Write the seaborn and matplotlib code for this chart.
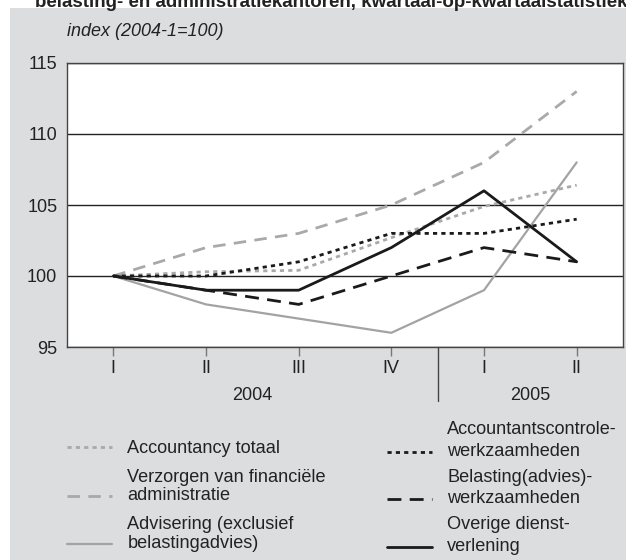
import numpy as np
import pandas as pd
import matplotlib
matplotlib.use("Agg")
import matplotlib.pyplot as plt
import matplotlib.transforms as mtransforms
from matplotlib.patches import Rectangle
from matplotlib.legend_handler import HandlerLine2D
import seaborn as sns

# data
quarters = ['I', 'II', 'III', 'IV', 'I', 'II']
years = ['2004', '2004', '2004', '2004', '2005', '2005']

accountancy_totaal = [100, 100.3, 100.4, 102.7, 104.9, 106.4]
verzorgen_admin = [100, 102, 103, 105, 108, 113]
advisering = [100, 98, 97, 96, 99, 108]
accountantscontrole = [100, 100, 101, 103, 103, 104]
belasting = [100, 99, 98, 100, 102, 101]
overige = [100, 99, 99, 102, 106, 101]

labels = ['Accountancy totaal',
          'Verzorgen van financiële\nadministratie',
          'Advisering (exclusief\nbelastingadvies)',
          'Accountantscontrole-\nwerkzaamheden',
          'Belasting(advies)-\nwerkzaamheden',
          'Overige dienst-\nverlening']
series = [accountancy_totaal, verzorgen_admin, advisering,
          accountantscontrole, belasting, overige]

light = '#a9a9a9'
dark = '#1a1a1a'
styles = [
    dict(color=light, lw=2.0, ls=(0, (1.5, 1.5))),
    dict(color=light, lw=2.0, ls=(0, (4.5, 3))),
    dict(color='#a3a3a3', lw=1.6, ls='-'),
    dict(color=dark, lw=2.0, ls=(0, (1.5, 1.5))),
    dict(color=dark, lw=2.0, ls=(0, (5, 3))),
    dict(color=dark, lw=2.0, ls='-'),
]


class LastLineHandler(HandlerLine2D):
    """put the legend sample next to the last line of a wrapped label"""
    def __init__(self, shift, **kw):
        super().__init__(**kw)
        self.shift = shift

    def create_artists(self, legend, orig_handle, xdescent, ydescent,
                       width, height, fontsize, trans):
        artists = super().create_artists(legend, orig_handle, xdescent, ydescent,
                                         width, height, fontsize, trans)
        for a in artists:
            a.set_ydata(np.asarray(a.get_ydata()) - self.shift)
        return artists


sns.set_style('white')
plt.rcParams['font.family'] = ['Liberation Sans', 'DejaVu Sans']
fs = 13
lfs = 13.1

fig = plt.figure(figsize=(6.26, 5.6), dpi=100, facecolor='white')
W, H = 626, 560
fig.patches.append(Rectangle((10 / W, 0), 1, 1 - 8 / H, transform=fig.transFigure,
                             facecolor='#dcdddf', edgecolor='none', zorder=-10))

ax = fig.add_axes([67 / W, 1 - 347 / H, 556 / W, 284 / H])
ax.set_facecolor('white')

x = np.arange(len(quarters))
for vals, lab, st in zip(series, labels, styles):
    df = pd.DataFrame({'pos': x, 'index': vals})
    sns.lineplot(data=df, x='pos', y='index', ax=ax, color=st['color'],
                 linewidth=st['lw'], linestyle=st['ls'], label=lab, zorder=3)

ax.set_xlim(-0.5, len(quarters) - 0.5)
ax.set_ylim(95, 115)
ax.set_yticks([95, 100, 105, 110, 115])
ax.set_xticks(x)
ax.set_xticklabels(quarters)
ax.set_xlabel('')
ax.set_ylabel('')
ax.grid(axis='y', color='#222222', lw=1.0, zorder=1)
ax.grid(axis='x', visible=False)
for sp in ax.spines.values():
    sp.set_color('#444444')
    sp.set_linewidth(1.0)
ax.tick_params(axis='y', length=0, pad=7, labelsize=fs, labelcolor='#222222')
ax.tick_params(axis='x', length=6.5, width=1, color='#777777', pad=3,
               labelsize=fs, labelcolor='#222222', direction='out', bottom=True)

# year grouping below the quarter labels
trans = mtransforms.blended_transform_factory(ax.transData, ax.transAxes)
yr_arr = np.array(years)
for yr in pd.unique(yr_arr):
    idx = np.where(yr_arr == yr)[0]
    ax.text(idx.mean(), -48 / 284, yr, transform=trans, ha='center', va='center',
            fontsize=fs, color='#222222')
split = np.where(yr_arr[1:] != yr_arr[:-1])[0][0] + 0.5
ax.plot([split, split], [0, -54 / 284], transform=trans, color='#444444',
        lw=1.0, clip_on=False)

ax.text(0, 1 + 31 / 284, 'index (2004-1=100)', transform=ax.transAxes,
        ha='left', va='center', fontsize=fs, style='italic', color='#222222')

# title is cut off at the top edge, as in the source image
fig.text(35 / W, 1 - 7 / H,
         'belasting- en administratiekantoren, kwartaal-op-kwartaalstatistiek',
         ha='left', va='baseline', fontsize=13.5, fontweight='bold', color='#222222')

handles, labs = ax.get_legend_handles_labels()
ax.get_legend().remove()

leg_kw = dict(loc='upper left', frameon=False, fontsize=lfs, borderpad=0,
              borderaxespad=0, handlelength=2.45, handletextpad=0.87,
              labelcolor='#222222')
leg1 = fig.legend(handles[:3], labs[:3], bbox_to_anchor=(67 / W, 1 - 440 / H),
                  labelspacing=0.65,
                  handler_map={h: LastLineHandler(6.9) for h in handles[1:3]},
                  **leg_kw)
leg2 = fig.legend(handles[3:], labs[3:], bbox_to_anchor=(387 / W, 1 - 421 / H),
                  labelspacing=0.5,
                  handler_map={h: LastLineHandler(8.2) for h in handles[3:]},
                  **leg_kw)
for t in leg1.get_texts():
    t.set_linespacing(1.12)
for t in leg2.get_texts():
    t.set_linespacing(1.35)

fig.savefig('out.png', dpi=100, facecolor='white')
